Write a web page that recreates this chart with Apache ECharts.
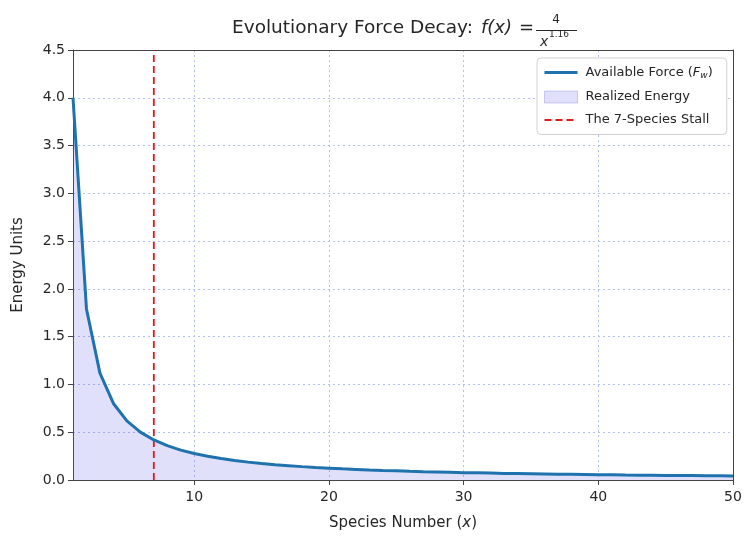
<!DOCTYPE html>
<html><head><meta charset="utf-8">
<script src="https://cdn.jsdelivr.net/npm/echarts@6/dist/echarts.min.js"></script>
<style>html,body{margin:0;padding:0;background:#fff}#c{width:746px;height:536px}</style>
</head><body><div id="c"></div>
<script>
const speciesX = [1,2,3,4,5,6,7,8,9,10,11,12,13,14,15,16,17,18,19,20,21,22,23,24,25,26,27,28,29,30,31,32,33,34,35,36,37,38,39,40,41,42,43,44,45,46,47,48,49,50];
const forceValues = [4.000,1.790,1.118,0.801,0.618,0.501,0.419,0.359,0.313,0.277,0.248,0.224,0.204,0.187,0.173,0.160,0.150,0.140,0.131,0.124,0.117,0.111,0.105,0.100,0.096,0.091,0.087,0.084,0.081,0.077,0.075,0.072,0.069,0.067,0.065,0.063,0.061,0.059,0.057,0.055,0.054,0.052,0.051,0.050,0.048,0.047,0.046,0.045,0.044,0.043];
const stallX = 7;
const yMax = 4.5;
const xTicks = [10,20,30,40,50];

const FONT = 'DejaVu Sans';
const TXT = '#262626';
const FILL = 'rgba(100,100,230,0.2)';
const GRID = '#b4bff2';
const chart = echarts.init(document.getElementById('c'));
const pts = speciesX.map((x,i)=>[x, forceValues[i]]);
function t(x,y,text,font,align){return {type:'text',x:x,y:y,style:{text:text,font:font,fill:TXT,align:align||'left',verticalAlign:'middle'}};}
const frameAxis = {axisLine:{show:true,onZero:false,lineStyle:{color:'#444'}},axisTick:{show:false},axisLabel:{show:false},splitLine:{show:false}};
chart.setOption({
  animation:false,
  textStyle:{fontFamily:FONT},
  grid:{left:73,right:13,top:50,bottom:56},
  graphic:[
    t(232,28,'Evolutionary Force Decay:','18.5px "'+FONT+'"'),
    t(481,28,'f(x)','italic 18px "'+FONT+'"'),
    t(519,28,'=','18px "'+FONT+'"'),
    t(556,20,'4','12px "'+FONT+'"','center'),
    {type:'line',shape:{x1:536,y1:30.5,x2:577,y2:30.5},style:{stroke:TXT,lineWidth:1}},
    t(540,42,'x','italic 14px "'+FONT+'"'),
    t(549,35,'1.16','9px "'+FONT+'"')
  ],
  legend:{
    left:537, top:58, orient:'vertical',
    itemWidth:33, itemHeight:12, itemGap:10,
    padding:[8,14,8,6],
    borderColor:'#d0d0d0', borderWidth:1, borderRadius:4, backgroundColor:'#fff',
    textStyle:{fontSize:13,color:TXT,fontFamily:FONT,padding:[0,0,0,3],
      rich:{i:{fontStyle:'italic',fontSize:13,fontFamily:FONT,color:TXT},sub:{fontStyle:'italic',fontSize:9,fontFamily:FONT,color:TXT,padding:[7,0,0,0]}}},
    formatter:function(n){ if(n==='Available Force (Fw)') return 'Available Force ({i|F}{sub|w})'; return n; },
    data:[
      {name:'Available Force (Fw)',itemStyle:{color:'rgba(0,0,0,0)',borderWidth:0,borderColor:'rgba(0,0,0,0)'},lineStyle:{width:3}},
      {name:'Realized Energy',icon:'rect',itemStyle:{color:FILL,borderColor:'rgba(120,120,230,0.35)',borderWidth:1}},
      {name:'The 7-Species Stall',itemStyle:{color:'rgba(0,0,0,0)',borderWidth:0,borderColor:'rgba(0,0,0,0)'},lineStyle:{width:2}}
    ]
  },
  xAxis:[{
    type:'value',min:1,max:50,
    name:'Species Number ({i|x})',nameLocation:'middle',nameGap:36,
    nameTextStyle:{fontSize:15,color:TXT,fontFamily:FONT,rich:{i:{fontStyle:'italic',fontSize:15,color:TXT,fontFamily:FONT}}},
    axisLine:{show:true,onZero:false,lineStyle:{color:'#444'}},
    axisTick:{show:true,length:5,customValues:xTicks,lineStyle:{color:'#444'}},
    axisLabel:{fontSize:14,color:TXT,customValues:xTicks,margin:10,fontFamily:FONT},
    splitLine:{show:true,lineStyle:{color:GRID,type:[2,3],width:1}}
  },Object.assign({type:'value',min:1,max:50,position:'top'},frameAxis)],
  yAxis:[{
    type:'value',min:0,max:yMax,interval:0.5,
    name:'Energy Units',nameLocation:'middle',nameGap:47,
    nameTextStyle:{fontSize:15,color:TXT,fontFamily:FONT},
    axisLine:{show:true,lineStyle:{color:'#444'}},
    axisTick:{show:true,length:5,lineStyle:{color:'#444'}},
    axisLabel:{fontSize:14,color:TXT,formatter:v=>v.toFixed(1),margin:8,fontFamily:FONT},
    splitLine:{show:true,lineStyle:{color:GRID,type:[2,3],width:1}}
  },Object.assign({type:'value',min:0,max:yMax,position:'right'},frameAxis)],
  series:[
    {name:'Realized Energy',type:'line',data:pts,symbol:'none',lineStyle:{width:0,color:FILL},itemStyle:{color:FILL},areaStyle:{color:FILL,opacity:1},z:1},
    {name:'Available Force (Fw)',type:'line',data:pts,symbol:'none',lineStyle:{width:3,color:'#1f72ad'},itemStyle:{color:'#1f72ad'},z:3},
    {name:'The 7-Species Stall',type:'line',data:[[stallX,0],[stallX,yMax]],symbol:'none',lineStyle:{width:1.8,color:'#e3171f',type:[7,4]},itemStyle:{color:'#e3171f'},z:2}
  ]
});
</script></body></html>
